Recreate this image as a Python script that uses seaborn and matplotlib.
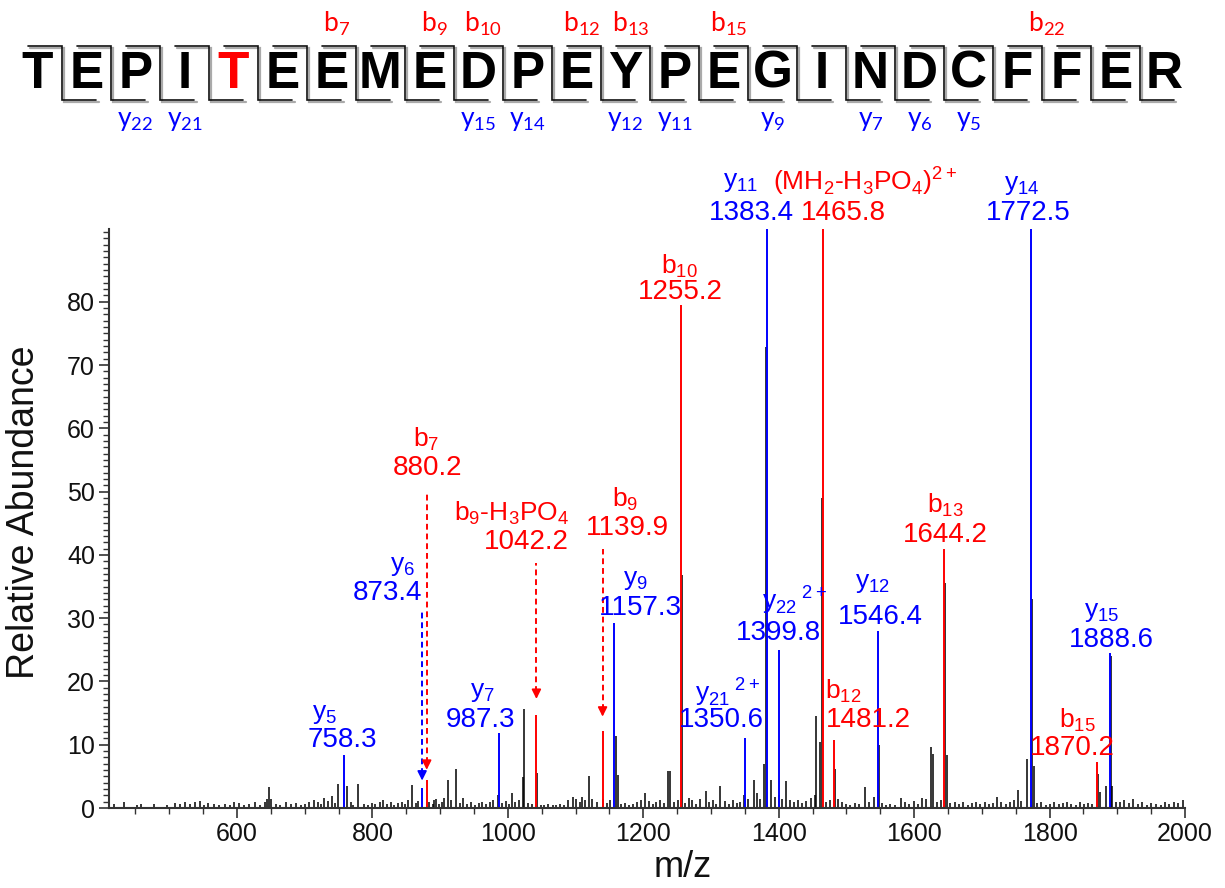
import numpy as np
import pandas as pd
import matplotlib
matplotlib.use("Agg")
import matplotlib.pyplot as plt
import seaborn as sns

sns.set_theme(style="ticks")
plt.rcParams['font.family'] = ['Liberation Sans', 'DejaVu Sans']
plt.rcParams['mathtext.fontset'] = 'custom'
plt.rcParams['mathtext.rm'] = 'Lato'
plt.rcParams['mathtext.sf'] = 'Liberation Sans'

RED = '#FF0000'
BLUE = '#0000FF'

# peptide and the fragments found
sequence = "TEPITEEMEDPEYPEGINDCFFER"
phospho_site = 5
b_frag = [7, 9, 10, 12, 13, 15, 22]
y_frag = [22, 21, 15, 14, 12, 11, 9, 7, 6, 5]

# annotated fragment peaks
ann_name = [r'y$_{\mathsf{5}}$', r'y$_{\mathsf{6}}$', r'b$_{\mathsf{7}}$', r'y$_{\mathsf{7}}$',
            r'b$_{\mathsf{9}}$-H$_{\mathsf{3}}$PO$_{\mathsf{4}}$', r'b$_{\mathsf{9}}$', r'y$_{\mathsf{9}}$',
            r'b$_{\mathsf{10}}$', r'y$_{\mathsf{21}}\,^{\mathsf{2+}}$', r'y$_{\mathsf{11}}$',
            r'y$_{\mathsf{22}}\,^{\mathsf{2+}}$', r'(MH$_{\mathsf{2}}$-H$_{\mathsf{3}}$PO$_{\mathsf{4}}$)$^{\mathsf{2+}}$',
            r'b$_{\mathsf{12}}$', r'y$_{\mathsf{12}}$', r'b$_{\mathsf{13}}$', r'y$_{\mathsf{14}}$',
            r'b$_{\mathsf{15}}$', r'y$_{\mathsf{15}}$']
ann_mz = [758.3, 873.4, 880.2, 987.3, 1042.2, 1139.9, 1157.3, 1255.2, 1350.6, 1383.4,
          1399.8, 1465.8, 1481.2, 1546.4, 1644.2, 1772.5, 1870.2, 1888.6]
ann_int = [8.4, 3.2, 4.5, 11.8, 14.7, 12.2, 29.2, 79.5, 11.0, 100,
           25.0, 100, 10.8, 28.0, 41.0, 100, 7.2, 24.5]
ann_ion = ['y', 'y', 'b', 'y', 'b', 'b', 'y', 'b', 'y', 'y',
           'y', 'b', 'b', 'y', 'b', 'y', 'b', 'y']

# unassigned peaks
other_mz = [648, 650, 713, 729, 749.6, 762.7, 779, 811, 858, 891, 906, 911, 923, 986, 1006,
            1022, 1024, 1043.5, 1096, 1110, 1120, 1141, 1159.5, 1162, 1203, 1236, 1239, 1256.5,
            1267, 1292, 1314, 1349, 1363, 1378, 1381.5, 1389, 1401, 1411, 1453, 1455.5, 1460.5,
            1463.3, 1482.8, 1527, 1541, 1547.8, 1580, 1612, 1625, 1628, 1645.8, 1648, 1723,
            1753, 1766, 1774, 1776.5, 1871.8, 1875, 1884, 1890.3, 1892]
other_int = [3.3, 1.5, 1.3, 1.6, 3.8, 3.4, 3.8, 1.0, 3.7, 1.3, 1.6, 4.5, 6.2, 2.0, 2.4,
             4.9, 15.6, 5.6, 1.7, 1.8, 5.0, 1.5, 11.3, 5.2, 2.4, 5.8, 5.8, 36.8,
             1.6, 2.7, 3.5, 2.0, 4.5, 7.0, 72.9, 4.5, 2.0, 4.3, 2.0, 14.5, 10.5,
             49.0, 6.2, 3.3, 1.8, 10.0, 1.6, 1.6, 9.6, 8.5, 35.5, 8.4, 1.8,
             2.9, 7.7, 33.0, 6.6, 5.3, 2.5, 3.4, 24.0, 3.5]
noise_peaks = [
    (418, 0.6), (433, 0.9), (452, 0.5), (458, 0.6), (478, 0.7), (497, 0.4), (509, 0.8), (516, 0.6),
    (523, 1.0), (531, 0.6), (538, 0.9), (546, 1.1), (551, 0.5), (557, 0.8), (566, 0.6), (574, 0.4),
    (583, 0.7), (589, 0.5), (595, 1.0), (603, 0.8), (611, 0.4), (618, 0.6), (627, 0.9), (634, 0.5),
    (641, 1.0), (644, 1.4), (657, 0.7), (664, 0.5), (672, 0.9), (680, 0.6), (687, 0.8), (694, 0.5),
    (701, 0.7), (707, 1.0), (719, 0.9), (724, 0.6), (735, 1.1), (741, 1.9), (745, 0.8), (768, 0.9),
    (772, 0.5), (787, 0.7), (793, 0.4), (799, 0.8), (804, 0.6), (816, 1.2), (821, 0.7), (827, 0.9),
    (832, 0.5), (838, 0.8), (843, 1.0), (848, 0.6), (853, 1.3), (864, 0.8), (868, 1.1), (884, 1.0),
    (889, 0.6), (894, 1.4), (899, 0.7), (903, 0.9), (916, 1.2), (929, 0.8), (934, 1.6), (940, 0.7),
    (946, 0.9), (951, 0.5), (957, 0.8), (962, 1.0), (968, 0.6), (973, 0.9), (978, 1.3), (992, 0.8),
    (997, 1.1), (1001, 0.7), (1011, 0.9), (1016, 1.3), (1030, 0.8), (1035, 0.6), (1049, 0.5),
    (1054, 0.4), (1060, 0.6), (1066, 0.5), (1071, 0.4), (1077, 0.6), (1083, 0.5), (1089, 1.2),
    (1101, 1.4), (1106, 1.0), (1114, 1.3), (1125, 1.5), (1131, 0.9), (1146, 0.8), (1151, 1.2),
    (1167, 0.6), (1173, 0.8), (1179, 0.5), (1185, 0.7), (1191, 0.9), (1197, 1.3), (1209, 1.1),
    (1214, 0.7), (1219, 1.0), (1225, 1.3), (1230, 0.8), (1246, 0.9), (1251, 1.2), (1262, 0.8),
    (1272, 1.2), (1278, 0.7), (1284, 1.4), (1297, 0.9), (1303, 1.2), (1308, 0.7), (1320, 1.1),
    (1326, 0.6), (1332, 1.3), (1338, 0.8), (1343, 1.0), (1355, 1.4), (1368, 2.4), (1372, 1.5),
    (1394, 1.8), (1405, 1.5), (1417, 1.2), (1423, 0.9), (1429, 1.3), (1435, 0.8), (1441, 1.1),
    (1447, 1.6), (1470, 1.0), (1476, 1.3), (1488, 1.5), (1494, 1.0), (1500, 0.7), (1506, 0.5),
    (1512, 0.8), (1518, 0.6), (1533, 1.0), (1552, 0.8), (1558, 0.5), (1565, 0.6), (1571, 0.4),
    (1586, 0.9), (1593, 0.6), (1600, 1.1), (1606, 0.7), (1618, 1.4), (1634, 1.0), (1640, 1.2),
    (1653, 0.8), (1660, 1.0), (1666, 0.6), (1672, 0.9), (1679, 0.5), (1685, 0.8), (1692, 1.0),
    (1698, 0.6), (1704, 0.9), (1710, 0.7), (1716, 0.8), (1729, 1.0), (1735, 0.7), (1741, 0.9),
    (1747, 1.2), (1758, 1.1), (1782, 0.8), (1788, 1.0), (1795, 0.5), (1801, 0.7), (1807, 0.9),
    (1814, 0.6), (1820, 0.8), (1826, 1.0), (1832, 0.7), (1839, 0.5), (1845, 0.9), (1851, 0.6),
    (1857, 0.8), (1863, 0.6), (1898, 1.0), (1904, 0.9), (1910, 1.3), (1917, 0.8), (1923, 1.4),
    (1930, 0.6), (1937, 0.9), (1944, 0.5), (1950, 0.8), (1957, 0.6), (1964, 0.4), (1971, 0.9),
    (1977, 0.7), (1984, 1.0), (1990, 0.8), (1997, 1.3),
]

# label placement: (name x, name y, value x, value y) in data units
label_pos = [
    (730, 14.8, 756, 10.7), (845, 38.2, 823, 34.0), (880, 58.3, 882, 53.7), (962, 18.4, 959, 13.9),
    (1006, 46.6, 1028, 42.0), (1173, 48.8, 1176, 44.2), (1188, 36.0, 1195, 31.6),
    (1254, 85.6, 1254, 81.5), (1324, 18.4, 1316, 13.9), (1343, 98.9, 1359, 94.0),
    (1424, 32.9, 1399, 27.7), (1527, 99.2, 1495, 94.0), (1495, 18.4, 1532, 13.9),
    (1538, 35.6, 1550, 30.2), (1646, 47.9, 1646, 43.1), (1759, 98.4, 1768, 94.0),
    (1841, 13.8, 1833, 9.5), (1877, 30.9, 1892, 26.5),
]
# dashed arrows (index, start, tip)
arrows = [(1, 31.0, 3.9), (2, 50.0, 5.6), (4, 38.7, 16.8), (5, 41.0, 14.0)]
# b label nudges (residue units)
b_nudge = {22: -0.5}

ann = pd.DataFrame({'mz': ann_mz, 'intensity': ann_int, 'ion': ann_ion})
other = pd.DataFrame({'mz': other_mz, 'intensity': other_int})
noise = pd.DataFrame(noise_peaks, columns=['mz', 'intensity'])
black = pd.concat([noise, other], ignore_index=True)

W, H = 1225, 888
fig = plt.figure(figsize=(W / 100, H / 100), dpi=100)
ax = fig.add_axes([109 / W, 1 - 808 / H, 1076 / W, 579 / H])

ax.vlines(black['mz'], 0, black['intensity'], color='black', lw=1.1)
colors = ann['ion'].map({'b': RED, 'y': BLUE})
ax.vlines(ann['mz'], 0, ann['intensity'], colors=colors, lw=1.4)

for i, (nx, ny, vx, vy) in enumerate(label_pos):
    c = RED if ann_ion[i] == 'b' else BLUE
    ax.text(nx, ny, ann_name[i], color=c, fontsize=19, ha='center', va='center', clip_on=False)
    ax.text(vx, vy, f"{ann_mz[i]:.1f}", color=c, fontsize=20, ha='center', va='center', clip_on=False)

for i, y0, y1 in arrows:
    c = RED if ann_ion[i] == 'b' else BLUE
    ax.vlines(ann_mz[i], y1 + 1.5, y0, colors=c, lw=1.4, linestyles=(0, (3, 2)))
    ax.annotate('', xy=(ann_mz[i], y1), xytext=(ann_mz[i], y1 + 2.2),
                arrowprops=dict(arrowstyle='-|>', color=c, lw=1.2, mutation_scale=14))

ax.set_xlim(411, 2000)
ax.set_ylim(0, 91.5)
ax.set_xticks(np.arange(600, 2001, 200))
ax.set_xticks(np.arange(450, 2001, 50), minor=True)
ax.set_yticks(np.arange(0, 81, 10))
ax.set_yticks(np.arange(0, 92, 1), minor=True)
ax.tick_params(axis='both', which='major', labelsize=18, length=7, width=1.2, color='#333333',
               labelcolor='#111111', pad=3)
ax.tick_params(axis='both', which='minor', length=4, width=1.0, color='#333333')
sns.despine(ax=ax)
for s in ['left', 'bottom']:
    ax.spines[s].set_linewidth(1.5)
    ax.spines[s].set_color('#333333')

ax.set_xlabel('m/z', fontsize=26, color='#111111')
ax.set_ylabel('Relative Abundance', fontsize=27, color='#111111')
ax.xaxis.set_label_coords(0.533, -0.072)
ax.yaxis.set_label_coords(-0.062, 0.51)

# peptide sequence with fragment brackets
ax_seq = fig.add_axes([0, 1 - 140 / H, 1, 140 / H])
ax_seq.set_xlim(0.2347, 25.235)
ax_seq.set_ylim(0, 1)
ax_seq.axis('off')

y_top, y_bot, arm = 0.671, 0.286, 0.7
for k in range(1, len(sequence)):
    xd = k + 0.5
    for dx, dy, col, lw in [(0.045, -0.016, '#AAAAAA', 1.6), (0, 0, '#111111', 1.2)]:
        ax_seq.plot([xd - arm + dx, xd + dx, xd + dx, xd + arm + dx],
                    [y_top + dy, y_top + dy, y_bot + dy, y_bot + dy], color=col, lw=lw,
                    solid_joinstyle='miter')

for i, aa in enumerate(sequence, start=1):
    ax_seq.text(i, 0.47, aa, fontsize=37, fontweight='bold', ha='center', va='center',
                color=RED if i == phospho_site else 'black')

for n in b_frag:
    ax_seq.text(n + 0.1 + b_nudge.get(n, 0), 0.83, r'b$_{\mathrm{%d}}$' % n, fontsize=19,
                family='Lato', color=RED, ha='center', va='center')
for n in y_frag:
    pos = len(sequence) - n + 1
    ax_seq.text(pos, 0.14, r'y$_{\mathrm{%d}}$' % n, fontsize=19, family='Lato',
                color=BLUE, ha='center', va='center')

fig.savefig('out.png', dpi=100)
